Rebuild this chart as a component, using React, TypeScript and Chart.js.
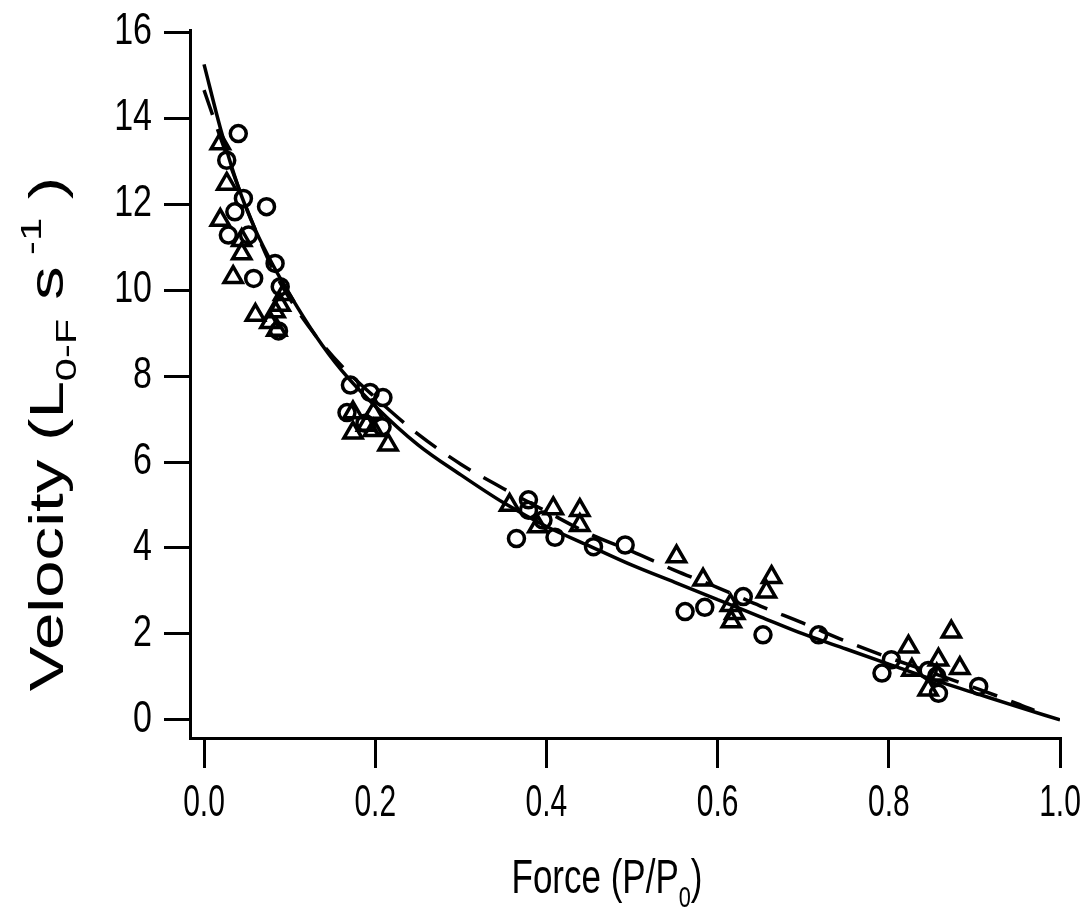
import React, { useEffect, useRef } from "react";
import { Chart, registerables } from "chart.js";

Chart.register(...registerables);

// Open circles (Force P/P0, Velocity)
const circleForce = [
  0.040, 0.0265, 0.046, 0.073, 0.036, 0.0284, 0.052, 0.058, 0.083, 0.089, 0.087,
  0.171, 0.167, 0.194, 0.209, 0.188, 0.208,
  0.379, 0.379, 0.396, 0.365, 0.41, 0.455, 0.492,
  0.562, 0.585, 0.63, 0.653, 0.718,
  0.792, 0.803, 0.846, 0.856, 0.858, 0.905,
];
const circleVelocity = [
  13.64, 13.02, 12.13, 11.94, 11.82, 11.28, 11.28, 10.27, 10.62, 10.08, 9.05,
  7.79, 7.15, 7.62, 7.5, 6.9, 6.82,
  5.12, 4.88, 4.65, 4.22, 4.25, 4.03, 4.07,
  2.52, 2.62, 2.87, 1.98, 1.98,
  1.09, 1.4, 1.15, 1.02, 0.62, 0.78,
];

// Open triangles
const triangleForce = [
  0.019, 0.0265, 0.019, 0.044, 0.044, 0.034, 0.06, 0.083, 0.089, 0.077, 0.085, 0.093,
  0.174, 0.174, 0.19, 0.198, 0.198, 0.215,
  0.357, 0.408, 0.439, 0.439, 0.39,
  0.552, 0.583, 0.615, 0.616, 0.62, 0.663, 0.657,
  0.873, 0.823, 0.827, 0.858, 0.883, 0.846, 0.856,
];
const triangleVelocity = [
  13.41, 12.47, 11.63, 11.16, 10.85, 10.3, 9.42, 9.5, 9.65, 9.25, 9.07, 9.9,
  7.15, 6.68, 6.86, 7.14, 6.74, 6.4,
  5.0, 4.92, 4.88, 4.53, 4.5,
  3.8, 3.26, 2.67, 2.29, 2.48, 3.32, 2.98,
  2.05, 1.7, 1.16, 1.4, 1.2, 0.7, 1.05,
];

// Solid fitted curve
const solidForce = [0, 0.02, 0.04, 0.06, 0.08, 0.1, 0.13, 0.16, 0.2, 0.25, 0.3, 0.35, 0.4, 0.45, 0.5, 0.55, 0.6, 0.65, 0.7, 0.75, 0.8, 0.85, 0.9, 0.95, 1.0];
const solidVelocity = [15.25, 13.7, 12.4, 11.4, 10.6, 9.9, 8.95, 8.15, 7.3, 6.4, 5.7, 5.05, 4.5, 4.05, 3.6, 3.2, 2.8, 2.4, 2.0, 1.65, 1.3, 0.95, 0.63, 0.31, 0.0];

// Dashed fitted curve
const dashForce = [0, 0.02, 0.04, 0.06, 0.08, 0.1, 0.13, 0.16, 0.2, 0.25, 0.3, 0.35, 0.4, 0.45, 0.5, 0.55, 0.6, 0.65, 0.7, 0.75, 0.8, 0.85, 0.9, 0.95, 0.97];
const dashVelocity = [14.65, 13.5, 12.4, 11.4, 10.5, 9.8, 8.95, 8.25, 7.5, 6.65, 5.95, 5.38, 4.85, 4.33, 3.92, 3.48, 3.08, 2.65, 2.25, 1.83, 1.45, 1.1, 0.75, 0.38, 0.22];

const xTickValues = [0, 0.2, 0.4, 0.6, 0.8, 1.0];
const yTickValues = [0, 2, 4, 6, 8, 10, 12, 14, 16];

const xTitleParts = [
  { text: "Force (P/P", kind: "normal" },
  { text: "0", kind: "sub" },
  { text: ")", kind: "normal" },
];
const yTitleParts = [
  { text: "Velocity (L", kind: "normal" },
  { text: "0-F", kind: "sub" },
  { text: " s", kind: "normal" },
  { text: " -1", kind: "sup" },
  { text: " )", kind: "normal" },
];

const FONT = "'Liberation Sans', Arial, sans-serif";

const zip = (xs: number[], ys: number[]) => xs.map((x, i) => ({ x, y: ys[i] }));

type Part = { text: string; kind: string };

function drawRich(ctx: CanvasRenderingContext2D, parts: Part[], size: number) {
  const small = size * 0.62;
  const fontFor = (k: string) => `${k === "normal" ? size : small}px ${FONT}`;
  let total = 0;
  const widths = parts.map((p) => {
    ctx.font = fontFor(p.kind);
    const w = ctx.measureText(p.text).width;
    total += w;
    return w;
  });
  let x = -total / 2;
  ctx.textBaseline = "alphabetic";
  ctx.textAlign = "left";
  parts.forEach((p, i) => {
    ctx.font = fontFor(p.kind);
    let dy = 0;
    if (p.kind === "sub") dy = size * 0.28;
    if (p.kind === "sup") dy = -size * 0.45;
    ctx.fillText(p.text, x, dy);
    x += widths[i];
  });
}

// Draw the scale's own label items, stretched vertically (the source figure's text is tall)
function stretchLabels(scale: any, k: number) {
  if (!scale || scale.__stretched) return;
  scale.__stretched = true;
  scale.drawLabels = function (chartArea: any) {
    const ctx: CanvasRenderingContext2D = this.ctx;
    const items = this.getLabelItems(chartArea);
    for (const item of items) {
      const o = item.options;
      ctx.save();
      ctx.translate(o.translation[0], o.translation[1]);
      if (o.rotation) ctx.rotate(o.rotation);
      ctx.scale(1, k);
      ctx.font = item.font.string;
      ctx.fillStyle = o.color;
      ctx.textAlign = o.textAlign;
      ctx.textBaseline = o.textBaseline;
      ctx.fillText(String(item.label), 0, item.textOffset || 0);
      ctx.restore();
    }
  };
}

const titlePlugin = {
  id: "axisTitles",
  beforeDraw(chart: any) {
    stretchLabels(chart.scales.x, 1.45);
    stretchLabels(chart.scales.y, 1.3);
  },
  afterDraw(chart: any) {
    const ctx: CanvasRenderingContext2D = chart.ctx;
    ctx.save();
    ctx.fillStyle = "#000";
    // X title
    ctx.save();
    ctx.translate(607, 893);
    ctx.scale(1, 1.4);
    drawRich(ctx, xTitleParts, 35);
    ctx.restore();
    // Y title
    ctx.save();
    ctx.translate(63, 434);
    ctx.rotate(-Math.PI / 2);
    ctx.scale(1.4, 1);
    drawRich(ctx, yTitleParts, 48);
    ctx.restore();
    ctx.restore();
  },
};

export default function App() {
  const ref = useRef<HTMLCanvasElement | null>(null);

  useEffect(() => {
    if (!ref.current) return;
    const chart = new Chart(ref.current, {
      type: "scatter",
      data: {
        datasets: [
          {
            type: "line",
            label: "fit solid",
            data: zip(solidForce, solidVelocity),
            borderColor: "#000",
            borderWidth: 3.5,
            pointRadius: 0,
            cubicInterpolationMode: "monotone",
            fill: false,
          },
          {
            type: "line",
            label: "fit dashed",
            data: zip(dashForce, dashVelocity),
            borderColor: "#000",
            borderWidth: 3.5,
            borderDash: [26, 15],
            pointRadius: 0,
            cubicInterpolationMode: "monotone",
            fill: false,
          },
          {
            label: "circles",
            data: zip(circleForce, circleVelocity),
            pointStyle: "circle",
            pointRadius: 8,
            borderWidth: 3.5,
            borderColor: "#000",
            backgroundColor: "rgba(0,0,0,0)",
          },
          {
            label: "triangles",
            data: zip(triangleForce, triangleVelocity),
            pointStyle: "triangle",
            pointRadius: 10.5,
            borderWidth: 3.5,
            borderColor: "#000",
            backgroundColor: "rgba(0,0,0,0)",
          },
        ],
      },
      options: {
        animation: false,
        responsive: false,
        maintainAspectRatio: false,
        devicePixelRatio: 1,
        layout: { padding: { left: 0, right: 28, top: 30, bottom: 0 } },
        plugins: {
          legend: { display: false },
          tooltip: { enabled: false },
          title: { display: false },
        },
        scales: {
          x: {
            type: "linear",
            min: -0.0164,
            max: 1.0,
            afterBuildTicks: (s: any) => {
              s.ticks = xTickValues.map((v) => ({ value: v }));
            },
            afterFit: (s: any) => {
              s.height = 172;
              s.paddingLeft = 0;
              s.paddingRight = 0;
            },
            grid: {
              drawOnChartArea: false,
              drawTicks: true,
              tickLength: 30,
              lineWidth: 3,
              color: "#000",
            },
            border: { display: true, width: 3, color: "#000" },
            ticks: {
              color: "#000",
              font: { family: FONT, size: 30 },
              padding: 10,
              maxRotation: 0,
              autoSkip: false,
              callback: (v: any) => Number(v).toFixed(1),
            },
          },
          y: {
            type: "linear",
            min: -0.42,
            max: 16.05,
            afterBuildTicks: (s: any) => {
              s.ticks = yTickValues.map((v) => ({ value: v }));
            },
            afterFit: (s: any) => {
              s.width = 190;
              s.paddingTop = 0;
              s.paddingBottom = 0;
            },
            grid: {
              drawOnChartArea: false,
              drawTicks: true,
              tickLength: 26,
              lineWidth: 3,
              color: "#000",
            },
            border: { display: true, width: 3, color: "#000" },
            ticks: {
              color: "#000",
              font: { family: FONT, size: 34 },
              padding: 12,
              autoSkip: false,
              callback: (v: any) => String(v),
            },
          },
        },
      },
      plugins: [titlePlugin],
    } as any);
    return () => chart.destroy();
  }, []);

  return (
    <div style={{ position: "absolute", left: 0, top: 0, width: 1088, height: 910, background: "#fff" }}>
      <canvas ref={ref} width={1088} height={910} style={{ display: "block", width: 1088, height: 910 }} />
    </div>
  );
}
